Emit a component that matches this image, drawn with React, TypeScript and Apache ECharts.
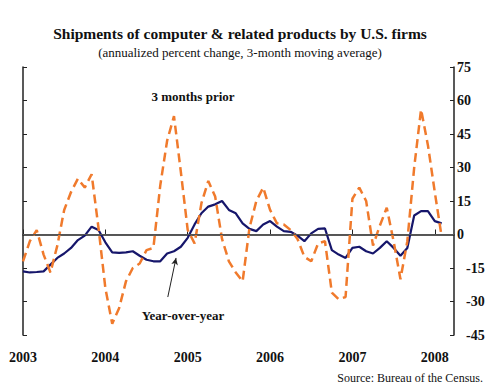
import React, { useEffect, useRef } from "react";
import * as echarts from "echarts";

// Monthly data, Jan 2003 (index 0) .. Feb 2008 (index 61)
const startYear = 2003;
const yearOverYear = [
  -16.5, -17, -16.8, -16.5, -13.5, -10.5, -8.5, -6, -2.5, -0.5,
  3.5, 2, -3.5, -8, -8.2, -8, -7.5, -9.5, -11.3, -12,
  -12, -8.5, -7.5, -5.5, -1.5, 4.5, 9.5, 12.5, 13.5, 15,
  11, 9.5, 5, 2.5, 1.5, 4.5, 6, 3.5, 1.5, 1.2,
  -0.5, -3, 0.5, 2.5, 2.7, -7, -9, -10.5, -6, -5.5,
  -7.5, -8.5, -6, -3, -6, -9.5, -6, 8.5, 10.5, 10.5,
  6, 5,
];
const threeMonthsPrior = [
  -12, -3, 2, -9, -17, -5, 11, 19, 25, 21,
  27, 3, -24, -40, -33, -21, -15, -13, -7, -6,
  22, 42, 53, 28, 2, -4, 14, 24, 17, -2,
  -12, -17, -21, 3, 15, 21, 11, 5, 4.5, 2,
  -2, -10, -12, -4, -3, -26, -29, -28, 16, 21,
  15, -5, 4, 12, -3, -20, -3, 30, 56, 40,
  19, -1,
];
const yTicks = [-45, -30, -15, 0, 15, 30, 45, 60, 75];
const titleText = "Shipments of computer & related products by U.S. firms";
const subtitleText = "(annualized percent change, 3-month moving average)";
const sourceText = "Source: Bureau of the Census.";
const label3m = "3 months prior";
const labelYoy = "Year-over-year";
// arrow for the Year-over-year annotation, in data coordinates [month index, value]
const arrowFrom = [21.1, -28];
const arrowTo = [22.3, -10.5];

const FONT = "'Liberation Serif', 'Times New Roman', serif";

export default function App() {
  const ref = useRef<HTMLDivElement>(null);
  useEffect(() => {
    if (!ref.current) return;
    const chart = echarts.init(ref.current, undefined, { renderer: "svg" });
    const toPairs = (arr: number[]) => arr.map((v, i) => [i, v]);
    const axisColor = "#222";
    chart.setOption({
      animation: false,
      backgroundColor: "#fff",
      textStyle: { fontFamily: FONT },
      grid: { left: 23, right: 37, top: 67, bottom: 53 },
      xAxis: {
        type: "value",
        min: 0,
        max: 62.8,
        interval: 12,
        axisLine: { show: true, lineStyle: { color: axisColor, width: 1.5 } },
        axisTick: { show: true, inside: true, length: 5, lineStyle: { color: axisColor } },
        splitLine: { show: false },
        axisLabel: {
          margin: 15,
          showMaxLabel: false,
          fontFamily: FONT,
          fontWeight: "bold",
          fontSize: 14,
          color: "#111",
          formatter: (v: number) => (Math.abs(v % 12) < 1e-6 ? String(startYear + v / 12) : ""),
        },
      },
      yAxis: [
        {
          type: "value",
          min: yTicks[0],
          max: yTicks[yTicks.length - 1],
          interval: 15,
          position: "left",
          axisLine: { show: true, lineStyle: { color: axisColor, width: 1.5 } },
          axisTick: { show: true, inside: true, length: 4, lineStyle: { color: axisColor } },
          axisLabel: { show: false },
          splitLine: { show: false },
        },
        {
          type: "value",
          min: yTicks[0],
          max: yTicks[yTicks.length - 1],
          interval: 15,
          position: "right",
          axisLine: { show: true, lineStyle: { color: axisColor, width: 1.5 } },
          axisTick: { show: true, inside: true, length: 4, lineStyle: { color: axisColor } },
          splitLine: { show: false },
          axisLabel: {
            margin: 3,
            formatter: (v: number) => (v < 0 ? `{s|}{n|${v}}` : `{p|${v}}`),
            rich: {
              s: { width: 9, height: 10 },
              p: { fontFamily: FONT, fontWeight: "bold", fontSize: 14, color: "#111" },
              n: { fontFamily: FONT, fontWeight: "bold", fontSize: 14, color: "#111" },
            },
          },
        },
      ],
      series: [
        {
          name: "Year-over-year",
          type: "line",
          data: toPairs(yearOverYear),
          showSymbol: false,
          symbol: "none",
          lineStyle: { color: "#16166b", width: 2.2 },
          z: 3,
          markLine: {
            silent: true,
            symbol: ["none", "none"],
            label: { show: false },
            lineStyle: { color: "#555", width: 1, type: "solid" },
            data: [{ yAxis: 0 }],
          },
        },
        {
          name: "3 months prior",
          type: "line",
          data: toPairs(threeMonthsPrior),
          showSymbol: false,
          symbol: "none",
          lineStyle: { color: "#f07a2c", width: 2.5, type: [9, 5] },
          z: 4,
          markLine: {
            silent: true,
            symbol: ["none", "arrow"],
            symbolSize: [5, 7],
            label: { show: false },
            lineStyle: { color: "#222", width: 1, type: "solid" },
            data: [[{ coord: arrowFrom }, { coord: arrowTo }]],
          },
        },
      ],
      graphic: [
        {
          type: "text",
          x: 240,
          y: 33,
          style: {
            text: titleText,
            align: "center",
            verticalAlign: "middle",
            font: `bold 15.5px ${FONT}`,
            fill: "#111",
          },
        },
        {
          type: "text",
          x: 240,
          y: 52,
          style: {
            text: subtitleText,
            align: "center",
            verticalAlign: "middle",
            font: `13px ${FONT}`,
            fill: "#111",
          },
        },
        {
          type: "text",
          x: 193,
          y: 96,
          style: {
            text: label3m,
            align: "center",
            verticalAlign: "middle",
            font: `bold 13px ${FONT}`,
            fill: "#111",
          },
        },
        {
          type: "text",
          x: 183,
          y: 315,
          style: {
            text: labelYoy,
            align: "center",
            verticalAlign: "middle",
            font: `bold 13px ${FONT}`,
            fill: "#111",
          },
        },
        {
          type: "text",
          x: 483,
          y: 378,
          style: {
            text: sourceText,
            align: "right",
            verticalAlign: "middle",
            font: `12px ${FONT}`,
            fill: "#111",
          },
        },
      ],
    });
    return () => chart.dispose();
  }, []);
  return (
    <div
      ref={ref}
      style={{ position: "fixed", left: 0, top: 0, width: 491, height: 388, background: "#fff" }}
    />
  );
}
